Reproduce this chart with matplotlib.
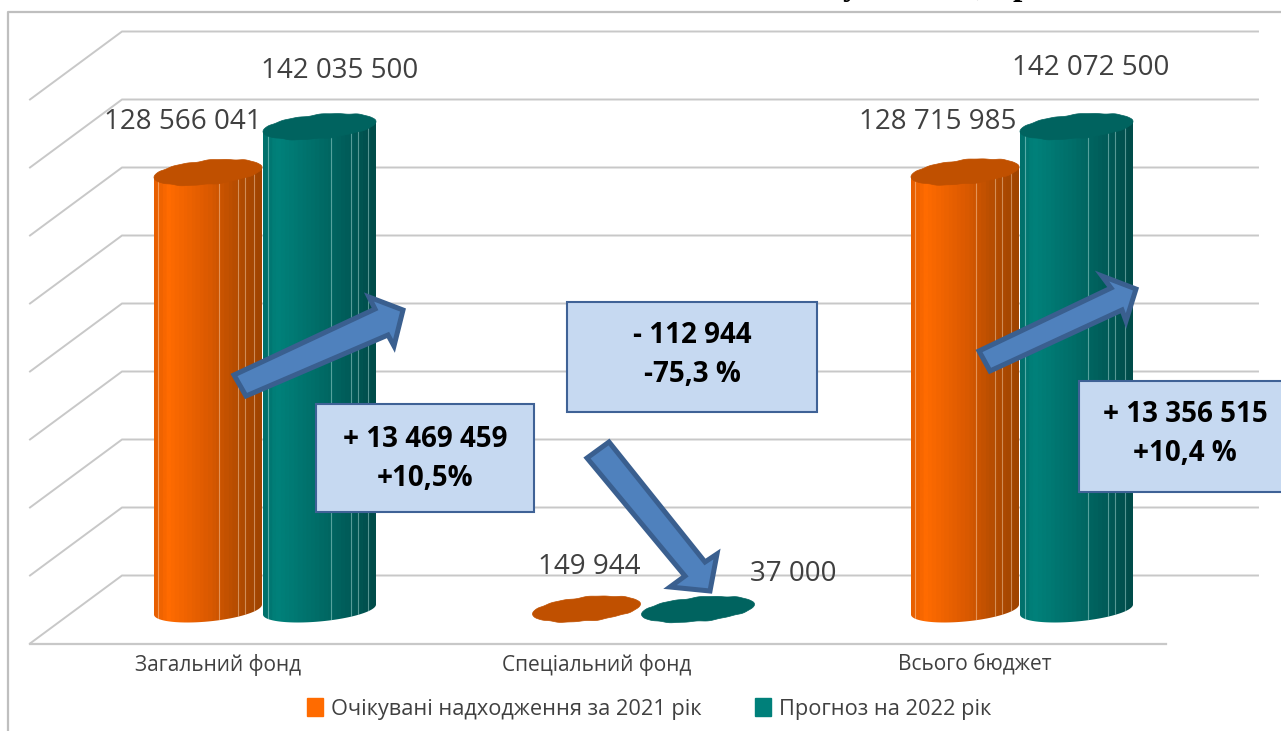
import numpy as np
import matplotlib
matplotlib.use("Agg")
import matplotlib.pyplot as plt
from matplotlib.colors import LinearSegmentedColormap
from matplotlib.patches import Patch, Polygon, Rectangle

plt.rcParams["font.family"] = "Open Sans"

funds = ["Загальний фонд", "Спеціальний фонд", "Всього бюджет"]
series_names = ["Очікувані надходження за 2021 рік", "Прогноз на 2022 рік"]
expected_2021 = [128566041, 149944, 128715985]
forecast_2022 = [142035500, 37000, 142072500]
labels_2021 = ["128 566 041", "149 944", "128 715 985"]
labels_2022 = ["142 035 500", "37 000", "142 072 500"]
grid_values = [0, 20, 40, 60, 80, 100, 120, 140, 160]

callouts = ["+ 13 469 459\n+10,5%", "- 112 944\n-75,3 %", "+ 13 356 515\n+10,4 %"]

W, H = 1281, 731
PX_X = 378.5  # pixels per category
PX_Y = 3.4    # pixels per million
X0, Y0 = 263, 609.5

fig = plt.figure(figsize=(W / 100, H / 100), dpi=100, facecolor="white")
ax = fig.add_axes([0, 0, 1, 1])
ax.set_xlim(-X0 / PX_X, (W - X0) / PX_X)
ax.set_ylim((Y0 - H) / PX_Y, Y0 / PX_Y)
ax.axis("off")

# overlay in picture pixels for the frame, boxes and arrows
pix = fig.add_axes([0, 0, 1, 1])
pix.set_xlim(0, W)
pix.set_ylim(H, 0)
pix.axis("off")
pix.patch.set_alpha(0)

GRID = "#c8c8c8"
DEPTH = 10  # wall shift in millions
for v in grid_values:
    ax.plot([-233 / PX_X, -141 / PX_X, 995 / PX_X],
            [v - DEPTH, v + DEPTH, v + DEPTH], color=GRID, lw=1.4, zorder=1, solid_joinstyle="miter")
ax.plot([-233 / PX_X, 903 / PX_X], [-DEPTH, -DEPTH], color=GRID, lw=1.6, zorder=1)

pix.plot([8, 8, W], [H, 12, 12], color="#bfbfbf", lw=1.6)

cmap_orange = LinearSegmentedColormap.from_list(
    "o", [(0, "#e85f00"), (0.12, "#ff6b00"), (0.5, "#dc5a00"), (0.8, "#b34c00"), (1, "#a04400")], N=26)
cmap_teal = LinearSegmentedColormap.from_list(
    "t", [(0, "#00716c"), (0.1, "#00827b"), (0.5, "#006c67"), (0.8, "#005a57"), (1, "#004c4a")], N=26)
band_lines = [0.04, 0.6, 0.78, 0.84, 0.93]


def disc(cx, value, half_w, wobble=True):
    t = np.linspace(0, 2 * np.pi, 181)
    bump = 1 + (0.035 * np.sin(9 * t + 1) + 0.02 * np.sin(17 * t)) if wobble else 1
    xs = cx + half_w * np.cos(t)
    ys = value + (5 * np.cos(t) + 12 * np.sin(t) * bump) / PX_Y
    return xs, ys


def cylinder(cx, value, half_w, cmap, top_color, line_color):
    v = value / 1e6
    if v > 1:
        tx, ty = disc(cx, v, half_w, wobble=False)
        bx, by = disc(cx, 0, half_w, wobble=False)
        lower = (np.pi <= np.linspace(0, 2 * np.pi, 181))
        body = np.vstack([
            [[tx[0], ty[0]], [tx[90], ty[90]]],
            np.column_stack([bx[lower], by[lower]]),
        ])
        clip = Polygon(body[[1] + list(range(2, len(body))) + [0]], transform=ax.transData, fc="none", ec="none")
        ax.add_patch(clip)
        im = ax.imshow(np.linspace(0, 1, 120).reshape(1, -1), cmap=cmap, aspect="auto",
                       extent=[cx - half_w, cx + half_w, -5, v + 5], zorder=3)
        im.set_clip_path(clip)
        for f in band_lines:
            x = cx - half_w + 2 * half_w * f
            ln, = ax.plot([x, x], [-5, v + 5], color=line_color, lw=0.8, alpha=0.45, zorder=3.1)
            ln.set_clip_path(clip)
    tx, ty = disc(cx, v, half_w)
    ax.fill(tx, ty, color=top_color, lw=0.5, zorder=3.2)


half_w = 54 / PX_X
offset = 55 / PX_X
positions = np.arange(len(funds))
# label offsets in pixels from the top centre of each bar
offs_2021 = [(-25, 50), (3, 42), (-27, 50)]
offs_2022 = [(22, 56), (97, 35), (16, 58)]

for i in positions:
    cylinder(i - offset, expected_2021[i], half_w, cmap_orange, "#c05000", "#ffe0c0")
    cylinder(i + offset + 1.5 / PX_X, forecast_2022[i], half_w + 2.5 / PX_X, cmap_teal, "#00635f", "#c0ece8")
    ax.annotate(labels_2021[i], (i - offset, expected_2021[i] / 1e6), xytext=offs_2021[i],
                textcoords="offset pixels", ha="center", va="center", fontsize=20, color="#404040", zorder=5)
    ax.annotate(labels_2022[i], (i + offset, forecast_2022[i] / 1e6), xytext=offs_2022[i],
                textcoords="offset pixels", ha="center", va="center", fontsize=20, color="#404040", zorder=5)
    ax.annotate(funds[i], (i, -DEPTH), xytext=(-45, -21), textcoords="offset pixels",
                ha="center", va="center", fontsize=15, color="#404040", zorder=5)

ax.legend(handles=[Patch(color="#ff6b00", label=series_names[0]), Patch(color="#00807a", label=series_names[1])],
          loc="center", bbox_to_anchor=(649 / W, 1 - 709 / H), ncol=2, frameon=False, fontsize=15.7,
          handlelength=0.75, handleheight=0.85, handletextpad=0.35, columnspacing=2.45, labelcolor="#404040")

# arrows
ARROW_FILL, ARROW_EDGE = "#4f81bd", "#3a5f8f"
arrows = [
    [(234, 375), (246, 396), (388, 335), (394, 346), (403, 310), (369, 297), (375, 309)],
    [(587, 458), (609, 442), (705, 562), (717, 554), (710, 591), (670, 587), (685, 576)],
    [(979, 351), (990, 371), (1122, 310), (1126, 321), (1136, 289), (1102, 276), (1111, 288)],
]
for pts in arrows:
    pix.add_patch(Polygon(pts, closed=True, fc=ARROW_FILL, ec=ARROW_EDGE, lw=3.6, joinstyle="miter", zorder=6))

# callout boxes
boxes = [(316, 404, 218, 108), (567, 302, 250, 110), (1079, 381, 210, 111)]
text_pos = [(425, 459), (692, 355), (1185, 434)]
for (x, y, w, h), (tx, ty), txt in zip(boxes, text_pos, callouts):
    pix.add_patch(Rectangle((x, y), w, h, fc="#c6d9f1", ec="#3f6296", lw=1.5, zorder=7))
    pix.text(tx, ty, txt, ha="center", va="center", fontsize=20, fontweight="bold",
             color="black", linespacing=1.45, zorder=8)

# cut off page title above the chart, only descenders stay visible
for ch, x in [("у", 851), (",", 981), ("р", 1022)]:
    pix.text(x, -5, ch, ha="center", va="baseline", fontsize=24, fontweight="bold",
             family="Liberation Serif", color="black", zorder=8)

fig.savefig("out.png", dpi=100)
